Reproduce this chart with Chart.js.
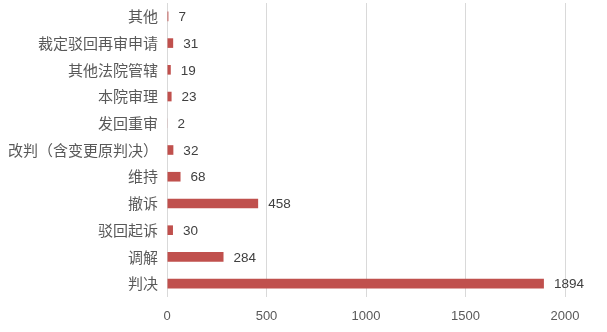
<!DOCTYPE html>
<html>
<head>
<meta charset="utf-8">
<script src="https://cdn.jsdelivr.net/npm/chart.js@4"></script>
<style>
  html, body { margin: 0; padding: 0; background: #fff; }
  #wrap { width: 607px; height: 332px; }
</style>
</head>
<body>
<div id="wrap"><canvas id="grafico"></canvas></div>
<script>
// categorias (de cima para baixo) e quantidades
const categorias = ["其他", "裁定驳回再审申请", "其他法院管辖", "本院审理", "发回重审", "改判（含变更原判决）", "维持", "撤诉", "驳回起诉", "调解", "判决"];
const quantidades = [7, 31, 19, 23, 2, 32, 68, 458, 30, 284, 1894];
const ticksX = [0, 500, 1000, 1500, 2000];

/* rótulos de valor na ponta de cada barra */
const rotulos = {
  id: "rotulos",
  afterDatasetsDraw(chart) {
    const ctx = chart.ctx;
    const meta = chart.getDatasetMeta(0);
    ctx.save();
    ctx.font = "13.5px 'Liberation Sans', Arial, sans-serif";
    ctx.fillStyle = "#404040";
    ctx.textAlign = "left";
    ctx.textBaseline = "middle";
    meta.data.forEach((bar, i) => {
      ctx.fillText(String(quantidades[i]), bar.x + 10, bar.y + 1);
    });
    ctx.restore();
  }
};

new Chart(document.getElementById("grafico"), {
  type: "bar",
  data: {
    labels: categorias,
    datasets: [{
      data: quantidades,
      backgroundColor: "#C0504D",
      barPercentage: 0.36,
      categoryPercentage: 1
    }]
  },
  options: {
    indexAxis: "y",
    responsive: true,
    maintainAspectRatio: false,
    animation: false,
    layout: { padding: { top: 3, right: 42, left: 0, bottom: 0 } },
    plugins: { legend: { display: false }, tooltip: { enabled: false } },
    scales: {
      x: {
        min: 0,
        max: 2000,
        afterBuildTicks: s => { s.ticks = ticksX.map(v => ({ value: v })); },
        grid: { color: "#d9d9d9", drawTicks: false },
        border: { display: false },
        ticks: {
          color: "#595959",
          padding: 12,
          callback: v => String(v),
          font: { family: "'Liberation Sans', Arial, sans-serif", size: 13 }
        },
        afterFit: s => { s.height = 35; s.paddingLeft = 0; s.paddingRight = 0; }
      },
      y: {
        grid: { display: false, drawTicks: false },
        border: { display: false },
        ticks: {
          color: "#595959",
          padding: 9,
          autoSkip: false,
          font: { family: "'Noto Sans CJK SC', sans-serif", size: 15 }
        },
        afterFit: s => { s.width = 167; s.paddingTop = 0; s.paddingBottom = 0; }
      }
    }
  },
  plugins: [rotulos]
});
</script>
</body>
</html>
